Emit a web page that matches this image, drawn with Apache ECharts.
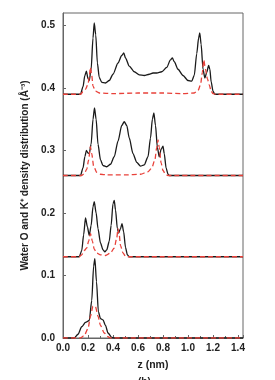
<!DOCTYPE html>
<html><head><meta charset="utf-8">
<script src="https://cdn.jsdelivr.net/npm/echarts@6/dist/echarts.min.js"></script>
<style>html,body{margin:0;padding:0;background:#fff}#c{width:275px;height:380px}</style>
</head><body><div id="c"></div>
<script>
// Baseline offsets for each stacked profile (Å^-3)
const offsets = [0, 0.13, 0.26, 0.39];

// Water O density profiles (black), [z (nm), density relative to baseline]
const waterO1 = [[0,0],[0.09,0],[0.12,0.006],[0.15,0.018],[0.18,0.025],[0.21,0.028],[0.23,0.06],[0.245,0.115],[0.255,0.127],[0.268,0.09],[0.283,0.042],[0.30,0.031],[0.32,0.029],[0.34,0.02],[0.36,0.008],[0.39,0.001],[0.41,0],[1.44,0]];
const waterO2 = [[0,0],[0.13,0],[0.15,0.01],[0.165,0.035],[0.18,0.062],[0.195,0.048],[0.21,0.034],[0.225,0.05],[0.24,0.08],[0.25,0.088],[0.265,0.07],[0.28,0.045],[0.30,0.022],[0.32,0.011],[0.335,0.008],[0.35,0.011],[0.37,0.025],[0.385,0.05],[0.40,0.085],[0.41,0.09],[0.42,0.075],[0.435,0.045],[0.445,0.038],[0.46,0.045],[0.472,0.053],[0.485,0.04],[0.50,0.015],[0.515,0.003],[0.53,0],[1.44,0]];
const waterO3 = [[0,0],[0.14,0],[0.16,0.012],[0.175,0.03],[0.187,0.040],[0.20,0.036],[0.21,0.035],[0.225,0.05],[0.24,0.09],[0.252,0.108],[0.265,0.09],[0.28,0.05],[0.30,0.025],[0.32,0.016],[0.35,0.014],[0.38,0.018],[0.41,0.03],[0.44,0.055],[0.47,0.08],[0.49,0.086],[0.51,0.08],[0.53,0.06],[0.56,0.035],[0.59,0.021],[0.62,0.015],[0.65,0.017],[0.68,0.03],[0.70,0.06],[0.715,0.09],[0.727,0.10],[0.74,0.08],[0.755,0.045],[0.77,0.03],[0.785,0.042],[0.80,0.047],[0.81,0.035],[0.825,0.012],[0.84,0.002],[0.85,0],[1.44,0]];
const waterO4 = [[0,0],[0.14,0],[0.16,0.012],[0.175,0.03],[0.187,0.037],[0.20,0.025],[0.21,0.022],[0.225,0.04],[0.24,0.09],[0.25,0.114],[0.262,0.095],[0.275,0.05],[0.29,0.027],[0.31,0.019],[0.34,0.018],[0.37,0.022],[0.40,0.032],[0.44,0.05],[0.47,0.062],[0.486,0.066],[0.50,0.058],[0.53,0.045],[0.57,0.036],[0.61,0.031],[0.65,0.030],[0.69,0.032],[0.72,0.034],[0.75,0.034],[0.79,0.036],[0.83,0.043],[0.86,0.055],[0.875,0.058],[0.89,0.052],[0.92,0.04],[0.96,0.03],[1.00,0.022],[1.03,0.021],[1.05,0.03],[1.07,0.065],[1.085,0.09],[1.094,0.098],[1.105,0.08],[1.12,0.04],[1.135,0.026],[1.15,0.035],[1.165,0.046],[1.175,0.04],[1.185,0.02],[1.20,0.005],[1.215,0],[1.44,0]];

// K+ density profiles (red dashed)
const kIon1 = [[0,0],[0.14,0],[0.17,0.004],[0.20,0.015],[0.22,0.035],[0.24,0.051],[0.26,0.05],[0.28,0.035],[0.30,0.02],[0.33,0.008],[0.36,0.002],[0.38,0],[1.44,0]];
const kIon2 = [[0,0],[0.13,0],[0.15,0.003],[0.17,0.01],[0.19,0.014],[0.205,0.025],[0.22,0.037],[0.235,0.025],[0.25,0.012],[0.27,0.006],[0.30,0.003],[0.34,0.002],[0.38,0.006],[0.41,0.014],[0.43,0.03],[0.44,0.045],[0.45,0.035],[0.46,0.018],[0.48,0.006],[0.50,0.001],[0.52,0],[1.44,0]];
const kIon3 = [[0,0],[0.15,0],[0.17,0.003],[0.19,0.01],[0.205,0.025],[0.219,0.046],[0.23,0.035],[0.245,0.015],[0.27,0.005],[0.30,0.002],[0.35,0.001],[0.5,0.001],[0.62,0.002],[0.68,0.006],[0.71,0.012],[0.735,0.025],[0.75,0.045],[0.76,0.057],[0.77,0.045],[0.785,0.02],[0.80,0.008],[0.82,0.002],[0.84,0],[1.44,0]];
const kIon4 = [[0,0],[0.14,0],[0.16,0.004],[0.18,0.008],[0.20,0.016],[0.21,0.028],[0.219,0.043],[0.23,0.03],[0.24,0.013],[0.26,0.005],[0.29,0.002],[0.4,0.001],[0.6,0.002],[0.8,0.002],[0.95,0.001],[1.05,0.002],[1.08,0.006],[1.10,0.015],[1.115,0.035],[1.126,0.055],[1.14,0.04],[1.155,0.025],[1.17,0.015],[1.185,0.005],[1.20,0.001],[1.22,0],[1.44,0]];

const xTicks = { min: 0, max: 1.44, interval: 0.2 };
const yTicks = { min: 0, max: 0.52, interval: 0.1 };

const waterSets = [waterO1, waterO2, waterO3, waterO4];
const kSets = [kIon1, kIon2, kIon3, kIon4];

const font = 'Liberation Sans, Arial, sans-serif';
const series = [];
waterSets.forEach((d, i) => {
  series.push({ type: 'line', data: d.map(p => [p[0], p[1] + offsets[i]]), showSymbol: false, smooth: 0.25, smoothMonotone: 'x',
    lineStyle: { color: '#1a1a1a', width: 1.3 }, z: 2 });
});
kSets.forEach((d, i) => {
  series.push({ type: 'line', data: d.map(p => [p[0], p[1] + offsets[i]]), showSymbol: false, smooth: 0.25, smoothMonotone: 'x',
    lineStyle: { color: '#e8413a', width: 1.3, type: [5, 3] }, z: 3 });
});

const chart = echarts.init(document.getElementById('c'), null, { renderer: 'canvas' });
chart.setOption({
  animation: false,
  backgroundColor: '#fff',
  grid: { left: 63, right: 32, top: 13, bottom: 42, show: true, borderColor: '#666', borderWidth: 1 },
  xAxis: {
    type: 'value', min: xTicks.min, max: xTicks.max, interval: xTicks.interval,
    name: 'z (nm)', nameLocation: 'middle', nameGap: 22,
    nameTextStyle: { fontFamily: font, fontWeight: 'bold', fontSize: 10.5, color: '#222' },
    axisLine: { lineStyle: { color: '#666' } },
    axisTick: { inside: true, length: 3, lineStyle: { color: '#666' } },
    minorTick: { show: true, splitNumber: 2, length: 2, lineStyle: { color: '#666' } },
    splitLine: { show: false },
    axisLabel: { fontFamily: font, fontWeight: 'bold', fontSize: 10, color: '#222', margin: 5,
      formatter: v => v.toFixed(1), showMaxLabel: false }
  },
  yAxis: {
    type: 'value', min: yTicks.min, max: yTicks.max, interval: yTicks.interval,
    name: 'Water O and K\u207A density distribution (\u00C5\u207B\u00B3)', nameLocation: 'middle', nameGap: 25,
    nameTextStyle: { fontFamily: font, fontWeight: 'bold', fontSize: 10, color: '#222' },
    axisLine: { lineStyle: { color: '#666' } },
    axisTick: { inside: true, length: 3, lineStyle: { color: '#666' } },
    splitLine: { show: false },
    axisLabel: { fontFamily: font, fontWeight: 'bold', fontSize: 10, color: '#222', margin: 8,
      formatter: v => v.toFixed(1), showMaxLabel: false }
  },
  graphic: [{ type: 'text', left: 138, top: 377, style: { text: '(b)', font: 'bold 10px ' + font, fill: '#222' } }],
  series
});
</script></body></html>
